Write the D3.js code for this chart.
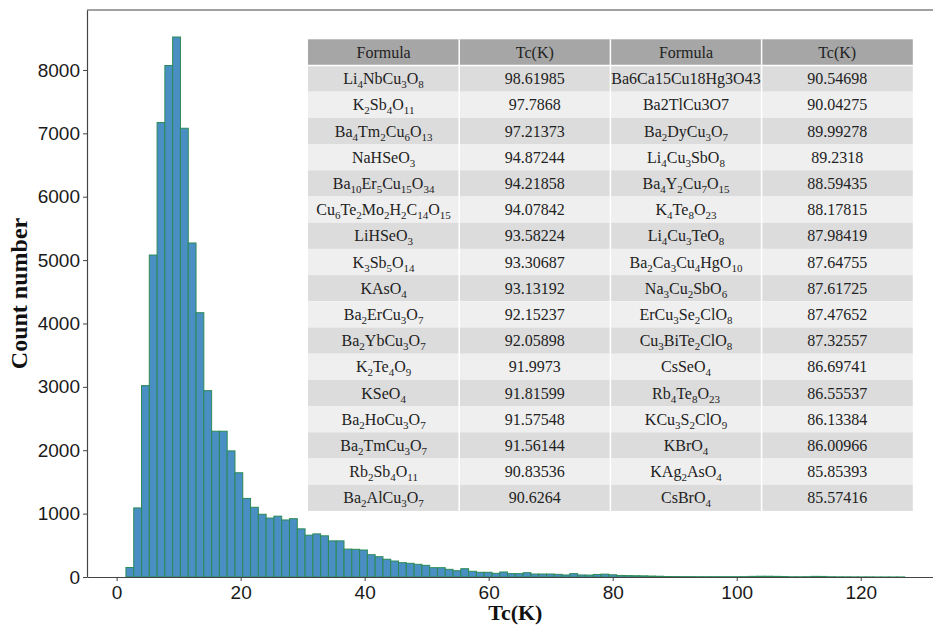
<!DOCTYPE html>
<html lang="en">
<head>
  <meta charset="UTF-8">
  <title>Tc histogram</title>
  <script src="https://d3js.org/d3.v7.min.js"></script>
  <style>
    body { margin: 0; background: #fff; }
    .tick text { font-family: 'Liberation Sans', Arial, sans-serif; font-size: 19px; fill: #1a1a1a; }
    .tick line { stroke: #444; }
    .axis-title { font-family: 'Liberation Serif', 'Times New Roman', serif; font-weight: bold; fill: #111; }
    .cell { font-family: 'Liberation Serif', 'Times New Roman', serif; font-size: 16px; fill: #222; }
  </style>
</head>
<body>
  <svg width="933" height="628"></svg>
  <script>
    // histogram: 100 bins starting at 1.5 K
    const binStart = 1.5, binWidth = 1.256;
    const counts = [
      150, 1090, 3020, 5080, 7170, 8070, 8520, 7080, 5270, 4170,
      2940, 2300, 2300, 1990, 1645, 1240, 1100, 990, 930, 960,
      900, 920, 760, 660, 680, 650, 570, 570, 440, 437,
      426, 352, 320, 280, 252, 226, 216, 200, 184, 147,
      147, 121, 99, 131, 90, 74, 74, 58, 79, 53,
      53, 68, 47, 47, 47, 42, 32, 53, 32, 30,
      40, 45, 35, 25, 22, 20, 18, 15, 12, 8,
      7, 6, 6, 5, 5, 5, 5, 5, 5, 6,
      10, 12, 12, 10, 8, 4, 4, 5, 10, 9,
      4, 3, 3, 2, 2, 2, 1, 1, 1, 1
    ];
    const yTicks = [0, 1000, 2000, 3000, 4000, 5000, 6000, 7000, 8000];
    const xTicks = [0, 20, 40, 60, 80, 100, 120];

    // inset table
    const tableHeader = ["Formula", "Tc(K)", "Formula", "Tc(K)"];
    const formulaA = ["Li4NbCu3O8", "K2Sb4O11", "Ba4Tm2Cu6O13", "NaHSeO3", "Ba10Er5Cu15O34",
      "Cu6Te2Mo2H2C14O15", "LiHSeO3", "K3Sb5O14", "KAsO4", "Ba2ErCu3O7", "Ba2YbCu3O7",
      "K2Te4O9", "KSeO4", "Ba2HoCu3O7", "Ba2TmCu3O7", "Rb2Sb4O11", "Ba2AlCu3O7"];
    const tcA = ["98.61985", "97.7868", "97.21373", "94.87244", "94.21858", "94.07842", "93.58224",
      "93.30687", "93.13192", "92.15237", "92.05898", "91.9973", "91.81599", "91.57548",
      "91.56144", "90.83536", "90.6264"];
    const formulaB = ["Ba6Ca15Cu18Hg3O43", "Ba2TlCu3O7", "Ba2DyCu3O7", "Li4Cu3SbO8", "Ba4Y2Cu7O15",
      "K4Te8O23", "Li4Cu3TeO8", "Ba2Ca3Cu4HgO10", "Na3Cu2SbO6", "ErCu3Se2ClO8", "Cu3BiTe2ClO8",
      "CsSeO4", "Rb4Te8O23", "KCu3S2ClO9", "KBrO4", "KAg2AsO4", "CsBrO4"];
    const tcB = ["90.54698", "90.04275", "89.99278", "89.2318", "88.59435", "88.17815", "87.98419",
      "87.64755", "87.61725", "87.47652", "87.32557", "86.69741", "86.55537", "86.13384",
      "86.00966", "85.85393", "85.57416"];
    const plainFormulas = ["Ba6Ca15Cu18Hg3O43", "Ba2TlCu3O7"];

    const svg = d3.select("svg");
    const mLeft = 87, mTop = 10, mBottom = 577, mRight = 943.7;

    const binEnd = binStart + binWidth * counts.length;
    const span = binEnd - binStart;
    const x = d3.scaleLinear()
      .domain([binStart - 0.05 * span, binEnd + 0.05 * span])
      .range([mLeft, mRight]);
    const y = d3.scaleLinear()
      .domain([0, d3.max(counts) * 1.05])
      .range([mBottom, mTop]);

    const bins = counts.map((c, i) => ({ x0: binStart + i * binWidth, x1: binStart + (i + 1) * binWidth, c }));

    svg.append("g")
      .selectAll("rect")
      .data(bins)
      .join("rect")
      .attr("x", d => x(d.x0))
      .attr("y", d => y(d.c))
      .attr("width", d => x(d.x1) - x(d.x0))
      .attr("height", d => y(0) - y(d.c))
      .attr("fill", "#4a8fc3")
      .attr("stroke", "#2b8a57")
      .attr("stroke-width", 1);

    // axes
    const gx = svg.append("g")
      .attr("transform", `translate(0,${mBottom})`)
      .call(d3.axisBottom(x).tickValues(xTicks).tickSize(4).tickSizeOuter(0).tickPadding(5));
    const gy = svg.append("g")
      .attr("transform", `translate(${mLeft},0)`)
      .call(d3.axisLeft(y).tickValues(yTicks).tickSize(4).tickSizeOuter(0).tickPadding(3)
        .tickFormat(d3.format("d")));
    gx.select(".domain").attr("stroke", "#444").attr("stroke-width", 1.2);
    gy.select(".domain").attr("stroke", "#444").attr("stroke-width", 1.2);
    svg.append("line")
      .attr("x1", mLeft).attr("x2", mRight)
      .attr("y1", mTop).attr("y2", mTop)
      .attr("stroke", "#444").attr("stroke-width", 1.2);

    svg.append("text")
      .attr("class", "axis-title")
      .attr("text-anchor", "middle")
      .attr("font-size", "22px")
      .attr("x", (mLeft + mRight) / 2)
      .attr("y", 620)
      .text("Tc(K)");
    svg.append("text")
      .attr("class", "axis-title")
      .attr("text-anchor", "middle")
      .attr("font-size", "24px")
      .attr("transform", `translate(27,${(mTop + mBottom) / 2}) rotate(-90)`)
      .text("Count number");

    // table
    const tx = 308, colW = 151.2, ty = 39.3, rowH = 26.2;
    const rows = formulaA.map((f, i) => [f, tcA[i], formulaB[i], tcB[i]]);
    const table = svg.append("g");

    table.append("rect")
      .attr("x", tx).attr("y", ty)
      .attr("width", colW * 4).attr("height", rowH)
      .attr("fill", "#a6a6a6");
    table.selectAll("rect.row")
      .data(rows)
      .join("rect")
      .attr("class", "row")
      .attr("x", tx)
      .attr("y", (d, i) => ty + rowH * (i + 1))
      .attr("width", colW * 4)
      .attr("height", rowH)
      .attr("fill", (d, i) => i % 2 === 0 ? "#dcdcdc" : "#efefef");
    table.selectAll("line.sep")
      .data([1, 2, 3])
      .join("line")
      .attr("class", "sep")
      .attr("x1", d => tx + colW * d).attr("x2", d => tx + colW * d)
      .attr("y1", ty).attr("y2", ty + rowH * (rows.length + 1))
      .attr("stroke", "#fff").attr("stroke-width", 1.5);
    table.append("line")
      .attr("x1", tx).attr("x2", tx + colW * 4)
      .attr("y1", ty + rowH).attr("y2", ty + rowH)
      .attr("stroke", "#fff").attr("stroke-width", 1.5);

    table.selectAll("text.head")
      .data(tableHeader)
      .join("text")
      .attr("class", "cell head")
      .attr("text-anchor", "middle")
      .attr("x", (d, i) => tx + colW * (i + 0.5))
      .attr("y", ty + rowH / 2 + 5.5)
      .text(d => d);

    // chemical formula with digits as subscripts
    function writeFormula(sel, f) {
      if (plainFormulas.includes(f)) { sel.text(f); return; }
      const parts = f.match(/\d+|\D+/g);
      let low = false;
      parts.forEach(p => {
        const isNum = /\d/.test(p);
        const t = sel.append("tspan").text(p);
        if (isNum && !low) { t.attr("dy", 4).attr("font-size", "11px"); low = true; }
        else if (isNum) { t.attr("font-size", "11px"); }
        else if (low) { t.attr("dy", -4); low = false; }
      });
    }

    rows.forEach((r, ri) => {
      r.forEach((v, ci) => {
        const t = table.append("text")
          .attr("class", "cell")
          .attr("text-anchor", "middle")
          .attr("x", tx + colW * (ci + 0.5))
          .attr("y", ty + rowH * (ri + 1) + rowH / 2 + 5.5);
        if (ci % 2 === 0) writeFormula(t, v); else t.text(v);
      });
    });
  </script>
</body>
</html>
